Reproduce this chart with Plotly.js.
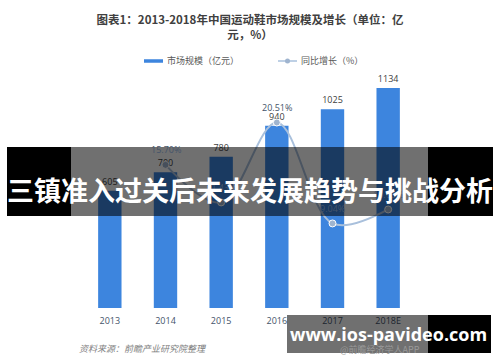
<!DOCTYPE html>
<html><head><meta charset="utf-8">
<script src="https://cdn.plot.ly/plotly-3.0.1.min.js"></script>
<style>html,body{margin:0;padding:0;background:#fff}#c{width:500px;height:362px}</style>
</head><body><div id="c"></div>
<script>
const years = ['2013','2014','2015','2016','2017','2018E'];
const marketSize = [605, 700, 780, 940, 1025, 1134];
const growth = [null, 15.70, 11.43, 20.51, 9.04, 10.63];
const titleText = '<b>图表1：2013-2018年中国运动鞋市场规模及增长（单位：亿<br>元，%）</b>';
const legendNames = ['市场规模（亿元）', '同比增长（%）'];
const sourceText = '资料来源：前瞻产业研究院整理';
const bannerText = '<b>三镇准入过关后未来发展趋势与挑战分析</b>';
const siteText = '<b>www.ios-pavideo.com</b>';
const appText = '@前瞻经济学人APP';

const W = 500, H = 362;
const px = x => x / W;
const py = y => 1 - y / H;
const FONT = 'Open Sans, Noto Sans CJK SC, sans-serif';
const CJK = 'Noto Sans CJK SC, sans-serif';
const barColor = '#3d85de';
const lineColor = '#a9c0dc';

const traces = [
  {type:'bar', x: years, y: marketSize, marker:{color: barColor}, width: 0.42,
   text: marketSize.map(String), textposition:'outside', cliponaxis:false,
   textfont:{size:9, color:'#404040', family: FONT}, showlegend:false, hoverinfo:'none'},
  {type:'scatter', mode:'lines+markers', x: years, y: growth, yaxis:'y2',
   line:{color: lineColor, width:2, shape:'spline'},
   marker:{color:'#9fb4cf', size:7, line:{color:'#ffffff', width:1}},
   cliponaxis:false, showlegend:false, hoverinfo:'none'}
];

const shapes = [
  {type:'line', xref:'paper', yref:'paper', x0:px(144), x1:px(163), y0:py(61), y1:py(61), line:{color:barColor, width:3.5}},
  {type:'line', xref:'paper', yref:'paper', x0:px(278), x1:px(297), y0:py(61), y1:py(61), line:{color:lineColor, width:1.5}},
  {type:'circle', xref:'paper', yref:'paper', x0:px(285), x1:px(290), y0:py(58.5), y1:py(63.5), fillcolor:'#9fb4cf', line:{width:0}},
  {type:'rect', layer:'above', xref:'paper', yref:'paper', x0:px(7), x1:px(71), y0:py(147), y1:py(216), fillcolor:'#000', line:{width:0}},
  {type:'rect', layer:'above', xref:'paper', yref:'paper', x0:px(71), x1:px(428), y0:py(147), y1:py(216), fillcolor:'rgba(0,0,0,0.56)', line:{width:0}},
  {type:'rect', layer:'above', xref:'paper', yref:'paper', x0:px(428), x1:px(493), y0:py(147), y1:py(216), fillcolor:'#000', line:{width:0}},
  {type:'rect', layer:'above', xref:'paper', yref:'paper', x0:px(287), x1:px(428), y0:py(315), y1:py(353), fillcolor:'rgba(0,0,0,0.56)', line:{width:0}},
  {type:'rect', layer:'above', xref:'paper', yref:'paper', x0:px(428), x1:px(491), y0:py(315), y1:py(353), fillcolor:'#000', line:{width:0}}
];

// growth labels placed through the data scales (category index on x, value on y2)
const growthLabels = [];
years.forEach((yr, i) => {
  if (growth[i] == null) return;
  growthLabels.push({xref:'x', yref:'y2', x: i, y: growth[i], yshift: 15, showarrow:false,
    text: growth[i].toFixed(2) + '%', font:{size:9, color:'#44546a', family: FONT}});
});

const annotations = growthLabels.concat([
  {xref:'paper', yref:'paper', x:px(165), y:py(61), xanchor:'left', yanchor:'middle', showarrow:false,
   text: legendNames[0], font:{size:9, color:'#595959', family: CJK}},
  {xref:'paper', yref:'paper', x:px(299), y:py(61), xanchor:'left', yanchor:'middle', showarrow:false,
   text: legendNames[1], font:{size:9, color:'#595959', family: CJK}},
  {xref:'paper', yref:'paper', x:px(77), y:py(348), xanchor:'left', yanchor:'middle', showarrow:false,
   text: '<i>' + sourceText + '</i>', font:{size:9, color:'#7f7f7f', family: CJK}},
  {xref:'paper', yref:'paper', x:px(380), y:py(349), xanchor:'center', yanchor:'middle', showarrow:false,
   text: appText, font:{size:9, color:'#9a9a9a', family: CJK}},
  {xref:'paper', yref:'paper', x:px(250), y:py(189), xanchor:'center', yanchor:'middle', showarrow:false,
   text: bannerText, font:{size:27, color:'#ffffff', family: CJK}},
  {xref:'paper', yref:'paper', x:px(388), y:py(334), xanchor:'center', yanchor:'middle', showarrow:false,
   text: siteText, font:{size:18, color:'#ffffff', family: 'Open Sans, DejaVu Sans, sans-serif'}}
]);

const layout = {
  width: W, height: H,
  margin:{l:0, r:0, t:0, b:0},
  paper_bgcolor:'#ffffff', plot_bgcolor:'#ffffff',
  title:{text: titleText, x:0.5, xanchor:'center', xref:'container', yref:'container', y: 1 - 24/H, yanchor:'middle',
         font:{size:11.5, color:'#404040', family: CJK}},
  xaxis:{domain:[82/W, 416/W], type:'category', categoryorder:'array', categoryarray: years,
         range:[-0.5, years.length - 0.5], autorange:false,
         showline:false, showgrid:false, zeroline:false, ticks:'',
         tickfont:{size:9, color:'#44546a', family: FONT}, ticklen:0, ticklabelstandoff:6},
  yaxis:{domain:[(H-308)/H, (H-70)/H], range:[0, 1227], autorange:false, visible:false, showgrid:false, zeroline:false},
  yaxis2:{domain:[(H-308)/H, (H-70)/H], overlaying:'y', range:[-0.57, 26.48], autorange:false, visible:false, showgrid:false, zeroline:false},
  showlegend:false,
  shapes: shapes,
  annotations: annotations
};

Plotly.newPlot('c', traces, layout, {staticPlot:true, displayModeBar:false});
</script>
</body></html>
